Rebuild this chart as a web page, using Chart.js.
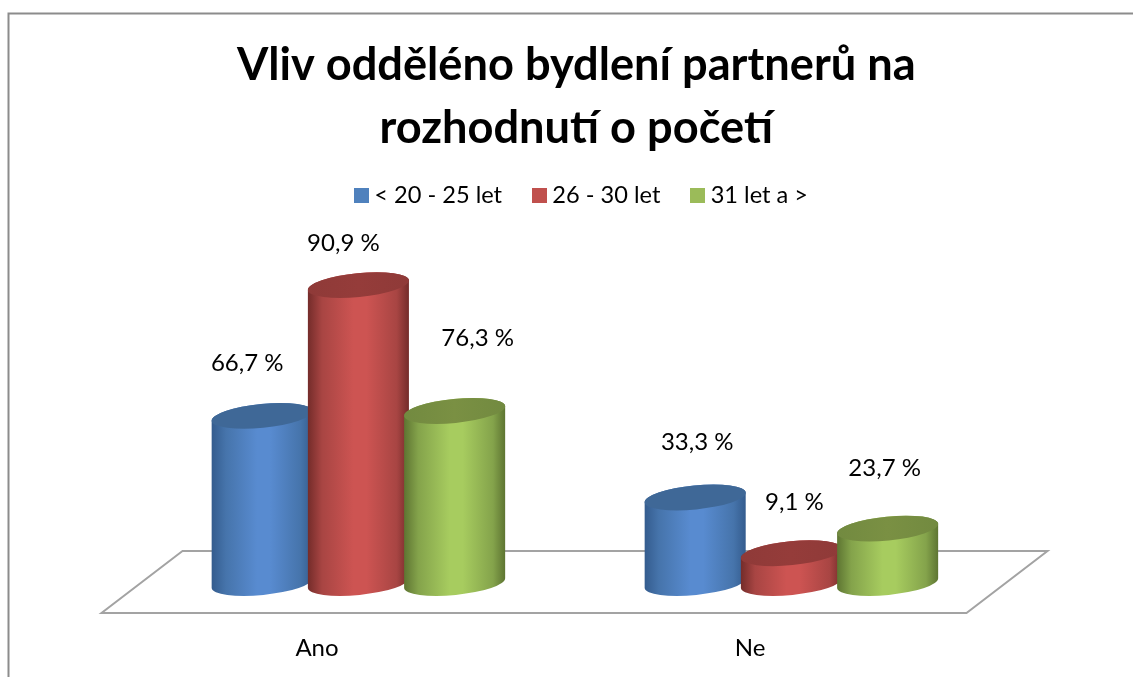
<!DOCTYPE html>
<html><head><meta charset="utf-8">
<style>html,body{margin:0;padding:0;background:#fff}canvas{display:block}</style>
<script src="https://cdn.jsdelivr.net/npm/chart.js@4"></script>
</head><body><canvas id="c" width="1133" height="677"></canvas>
<script>
const categories = ["Ano", "Ne"];
const seriesNames = ["< 20 - 25 let", "26 - 30 let", "31 let a >"];
// Cylinder heights as drawn in the picture, scaled so that the tallest bar equals its label.
const youngValues = [51.0, 26.1];
const middleValues = [90.9, 9.1];
const olderValues = [52.5, 16.6];
// Printed labels as they read in the picture.
const youngLabels = ["66,7 %", "33,3 %"];
const middleLabels = ["90,9 %", "9,1 %"];
const olderLabels = ["76,3 %", "23,7 %"];
const titleLines = ["Vliv odděléno bydlení partnerů na", "rozhodnutí o početí"];

const FONT = "Lato, 'Open Sans', sans-serif";
const swatchColors = ["#4F81BD", "#C0504D", "#9BBB59"];
const shades = [
  {edge:"#345c8e", low:"#4674ab", mid:"#588bd0", top:"#3f6897", topMid:"#3f6897"},
  {edge:"#742c2a", low:"#a84543", mid:"#cd5452", top:"#8f3a38", topMid:"#953c3a"},
  {edge:"#5e7532", low:"#84a34b", mid:"#a7cc5f", top:"#728a40", topMid:"#7a9043"}
];
// Manual label placement relative to the top of each cylinder [dx, dy], per series then category.
const labelShift = [
  [[-15, -53], [2, -55]],
  [[-15, -42], [3, -51]],
  [[23, -73], [-3, -60]]
];
const printed = [youngLabels, middleLabels, olderLabels];

function swatch(color){
  const s = document.createElement("canvas");
  s.width = 15; s.height = 15;
  const g = s.getContext("2d");
  g.fillStyle = color; g.fillRect(0,0,15,15);
  return s;
}
const swatches = swatchColors.map(swatch);

const TILT = 0.0987, CAP = 12, WIDEN = 1.05, LEGEND_SHIFT = 7.5;

function drawCylinder(ctx, el, sh){
  const left = el.x - el.width/2, W = el.width*WIDEN, cx = left + W/2;
  const a = (W/2)/Math.cos(TILT), top = el.y, base = el.base;
  const g = ctx.createLinearGradient(left,0,left+W,0);
  g.addColorStop(0, sh.edge); g.addColorStop(0.14, sh.low);
  g.addColorStop(0.45, sh.mid); g.addColorStop(0.58, sh.mid); g.addColorStop(0.88, sh.low); g.addColorStop(1, sh.edge);
  ctx.beginPath();
  ctx.ellipse(cx, base, a, CAP, -TILT, Math.PI, 0, true);
  ctx.ellipse(cx, top, a, CAP, -TILT, 0, -Math.PI, true);
  ctx.closePath();
  ctx.fillStyle = g; ctx.fill();
  const t = ctx.createLinearGradient(left,0,left+W,0);
  t.addColorStop(0, sh.top); t.addColorStop(0.5, sh.topMid); t.addColorStop(1, sh.top);
  ctx.beginPath();
  ctx.ellipse(cx, top, a, CAP, -TILT, 0, Math.PI*2);
  ctx.fillStyle = t; ctx.fill();
}

const scene = {
  id: "scene",
  afterLayout(chart){
    chart.legend.left += LEGEND_SHIFT;
    chart.legend.right += LEGEND_SHIFT;
  },
  beforeDatasetsDraw(chart){
    const ctx = chart.ctx, area = chart.chartArea;
    ctx.save();
    // frame of the chart object
    ctx.strokeStyle = "#8c8c8c"; ctx.lineWidth = 2;
    ctx.beginPath(); ctx.moveTo(8.5, chart.height); ctx.lineTo(8.5, 13.5); ctx.lineTo(chart.width, 13.5); ctx.stroke();
    // floor
    ctx.strokeStyle = "#a3a3a3"; ctx.lineWidth = 2; ctx.lineJoin = "miter";
    ctx.beginPath();
    ctx.moveTo(area.left+43, area.bottom-32);
    ctx.lineTo(area.left-38, area.bottom+30);
    ctx.lineTo(area.right-39, area.bottom+30);
    ctx.lineTo(area.right+42, area.bottom-32);
    ctx.closePath(); ctx.stroke();
    // cylinders, first series at the back
    chart.data.datasets.forEach((ds,i)=>{
      chart.getDatasetMeta(i).data.forEach(el=>drawCylinder(ctx, el, shades[i]));
    });
    // printed labels
    ctx.fillStyle = "#000"; ctx.font = "24px "+FONT;
    ctx.textAlign = "center"; ctx.textBaseline = "middle";
    chart.data.datasets.forEach((ds,i)=>{
      chart.getDatasetMeta(i).data.forEach((el,j)=>{
        const cx = el.x - el.width/2 + el.width*WIDEN/2;
        ctx.fillText(printed[i][j], cx+labelShift[i][j][0], el.y+labelShift[i][j][1]);
      });
    });
    ctx.restore();
    return false;
  }
};

new Chart(document.getElementById("c"), {
  type: "bar",
  data: {
    labels: categories,
    datasets: [
      {label: seriesNames[0], data: youngValues, backgroundColor: swatchColors[0]},
      {label: seriesNames[1], data: middleValues, backgroundColor: swatchColors[1]},
      {label: seriesNames[2], data: olderValues, backgroundColor: swatchColors[2]}
    ]
  },
  options: {
    responsive: false,
    animation: false,
    layout: {padding: {left: 139.5, right: 120, top: 0, bottom: 0}},
    datasets: {bar: {categoryPercentage: 0.6667, barPercentage: 1}},
    plugins: {
      tooltip: {enabled: false},
      title: {
        display: true,
        text: titleLines,
        color: "#000",
        font: {family: FONT, size: 45.2, weight: "bold", lineHeight: 1.394},
        padding: {top: 33.5, bottom: -11}
      },
      legend: {
        display: true,
        position: "top",
        labels: {
          usePointStyle: true,
          pointStyleWidth: 3,
          padding: 35.5,
          color: "#000",
          font: {family: FONT, size: 23.6},
          generateLabels(chart){
            return chart.data.datasets.map((ds,i)=>({
              text: ds.label, pointStyle: swatches[i], fontColor: "#000",
              fillStyle: swatchColors[i], strokeStyle: swatchColors[i], lineWidth: 0, datasetIndex: i, hidden: false
            }));
          }
        }
      }
    },
    scales: {
      x: {
        grid: {display: false, drawTicks: false},
        border: {display: false},
        ticks: {color: "#000", font: {family: FONT, size: 24}, padding: 51, labelOffset: -39},
        afterFit(s){ s.height = 94; }
      },
      y: {
        position: "right",
        min: 0, max: 111.5,
        grid: {display: false, drawTicks: false},
        border: {display: false},
        ticks: {display: false},
        afterFit(s){ s.width = 7.5; }
      }
    }
  },
  plugins: [scene]
});
</script></body></html>
